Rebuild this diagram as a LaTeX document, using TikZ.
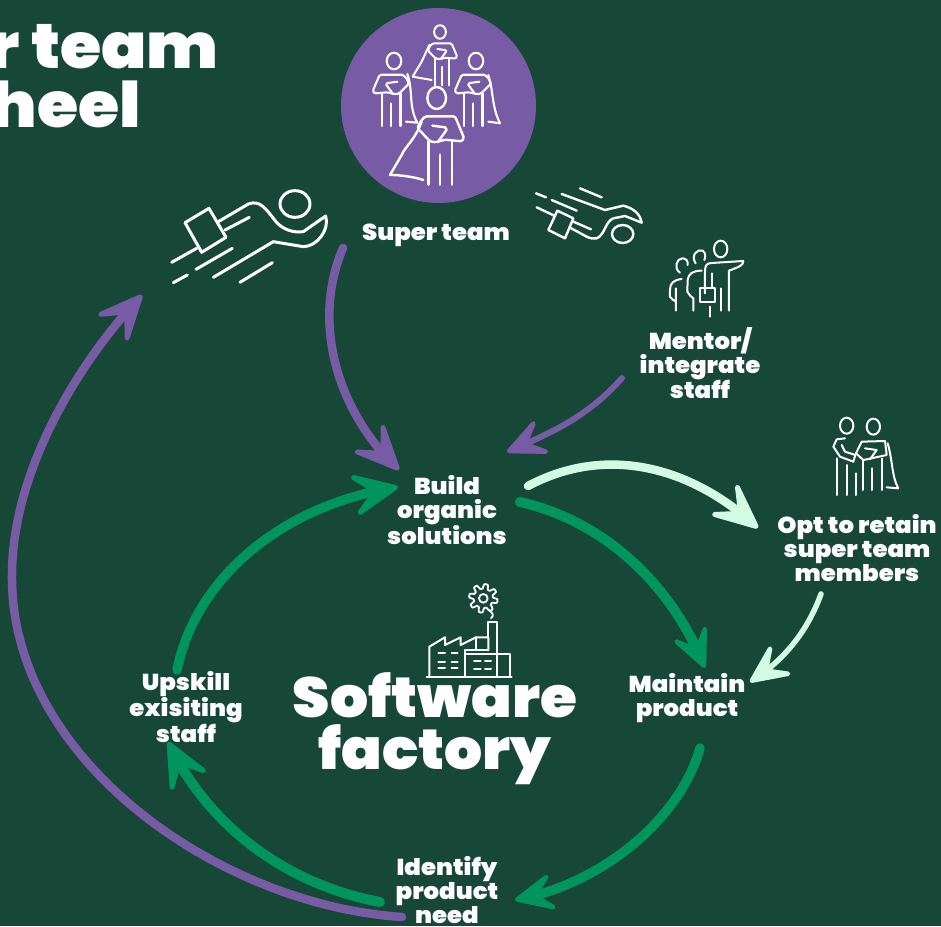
\documentclass[tikz,border=0pt]{standalone}
\usepackage{fontspec}
\setmainfont{Poppins}[BoldFont=Poppins Black,BoldFeatures={FakeStretch=1.06}]
\usetikzlibrary{arrows.meta,bending}
\definecolor{bgc}{HTML}{174737}
\definecolor{purp}{HTML}{775BA5}
\definecolor{grn}{HTML}{00955F}
\definecolor{mint}{HTML}{D3FBE4}
\tikzset{
  lbl/.style={white,align=center,inner sep=0pt,font=\bfseries\fontsize{23}{24}\selectfont},
  big/.style={white,align=center,inner sep=0pt,font=\bfseries\fontsize{56.5}{52}\selectfont},
  ttl/.style={white,anchor=base east,inner sep=0pt,font=\bfseries\fontsize{63}{63}\selectfont},
  ico/.style={white,line width=#1,line cap=round,line join=round},
  ico/.default=2.4,
  conn/.style={line cap=round,line join=round},
  tipS/.style={-{Stealth[round,length=58pt,width=52pt,inset=28pt,line width=5pt,flex]}},
  tipM/.style={-{Stealth[round,length=50pt,width=46pt,inset=24pt,line width=4.5pt,flex]}},
}
\newcommand{\heroicon}[5]{%
\begin{scope}[shift={(#1,#2)},x=#3pt,y=-#4pt]
\draw[ico=#5] (0,0) ellipse[x radius=28,y radius=33];
\draw[ico=#5,rounded corners=1.5pt] (-48,70) -- (-35,55) -- (55,55) -- (82,120) -- (75,130) -- (25,125) -- (-2,133) -- (-20,130) -- (-58,90) -- (-48,70);
\draw[ico=#5] (-13,83) -- (25,88) -- (30,95) -- (5,130);
\draw[ico=#5] (-25,130) -- (-25,260) (45,130) -- (45,260) (10,170) -- (10,260);
\end{scope}}
\begin{document}
\begin{tikzpicture}[x=1pt,y=-1pt]
\useasboundingbox (0,0) rectangle (941,926);
\clip (0,0) rectangle (941,926);
\fill[bgc] (0,0) rectangle (941,926);
% title
\node[ttl] (t1) at (219,68) {r team};
\node[ttl] (t2) at (141,127) {heel};
% circle + heroes
\node[circle,fill=purp,minimum size=195pt,inner sep=0pt] (team) at (438.5,105.5) {};
\heroicon{440}{32}{0.21}{0.205}{2}
\heroicon{394}{61}{-0.26}{0.25}{2.1}
\heroicon{476}{61}{-0.26}{0.25}{2.1}
\heroicon{436.7}{98}{0.3333}{0.3333}{2.4}
\begin{scope}[shift={(330,0)},x=.3333pt,y=-.3333pt]
\draw[ico=2.4] (275,365) .. controls (255,420) and (225,440) .. (215,465) -- (180,525) .. controls (210,525) and (250,530) .. (280,540);
\draw[ico=2.1] (232,222) .. controls (250,270) and (235,320) .. (262,368) -- (228,365);
\draw[ico=2.1] (475,225) .. controls (490,270) and (485,320) .. (510,370) -- (475,365);
\draw[ico=2] (298,135) -- (275,185) -- (248,230) -- (305,240);
\end{scope}
% flying person left
\begin{scope}[shift={(160,180)},x=.3333pt,y=-.3333pt]
\draw[ico=3] (405,72) ellipse[x radius=45,y radius=40];
\draw[ico=3] (75,128) -- (147,85) -- (198,172) -- (125,217) -- cycle;
\draw[ico=3] (175,125) -- (265,72) .. controls (300,58) and (320,90) .. (340,115) .. controls (360,145) and (395,160) .. (430,155) -- (497,108) .. controls (510,150) and (470,200) .. (430,200) -- (340,185) -- (160,292);
\draw[ico=3] (35,247) -- (110,205) (108,268) -- (217,205) (195,150) -- (268,112) (40,308) -- (82,285) (240,307) -- (337,248);
\end{scope}
% flying person right and mentor group
\begin{scope}[shift={(530,180)},x=.3333pt,y=-.3333pt]
\draw[ico=2.4] (82,92) -- (130,115) -- (105,175) -- (55,150) -- cycle;
\draw[ico=2.4] (278,162) ellipse[x radius=32,y radius=27];
\draw[ico=2.4] (95,42) -- (225,90) -- (280,77) .. controls (310,85) and (330,100) .. (335,128) -- (285,108) -- (250,115) .. controls (225,125) and (225,165) .. (200,175) .. controls (190,177) and (180,175) .. (170,170) -- (120,143);
\draw[ico=2.4] (150,25) -- (215,52) (18,40) -- (48,52) (65,60) -- (140,92) (20,82) -- (75,108) (130,125) -- (183,148);
% mentor
\draw[ico=2] (572,207) ellipse[x radius=20,y radius=25];
\draw[ico=2] (525,340) -- (525,275) .. controls (525,255) and (530,250) .. (545,249) -- (640,243) .. controls (640,255) and (630,260) .. (597,272) -- (597,392);
\draw[ico=2] (547,280) -- (547,325) (572,325) -- (572,392) (540,380) -- (540,410);
\draw[ico=2] (510,325) rectangle (555,365);
\draw[ico=2] (497,250) .. controls (480,225) and (505,205) .. (518,212) .. controls (530,220) and (525,235) .. (523,240);
\draw[ico=2] (515,272) .. controls (490,272) and (475,280) .. (473,300) -- (472,335) .. controls (475,345) and (485,350) .. (490,355) -- (490,392);
\draw[ico=2] (450,278) .. controls (430,265) and (440,235) .. (457,235) .. controls (470,235) and (475,245) .. (473,255);
\draw[ico=2] (455,297) .. controls (430,300) and (420,310) .. (420,330) -- (420,350) .. controls (425,358) and (432,362) .. (438,365) (438,325) -- (438,392);
\end{scope}
% pair
\begin{scope}[shift={(820,410)},x=.3333pt,y=-.3333pt]
\draw[ico=2] (80,47) ellipse[x radius=20,y radius=24] (160,50) ellipse[x radius=20,y radius=24];
\draw[ico=2] (75,85) -- (50,88) -- (40,110) -- (60,140) -- (100,155) -- (106,135) -- (75,125) -- (65,105);
\draw[ico=2] (52,145) -- (52,255) (80,165) -- (80,255) (108,190) -- (108,255);
\draw[ico=2] (108,130) -- (125,95) -- (195,93) -- (200,135) -- (130,150) -- cycle;
\draw[ico=2] (135,115) -- (170,120) -- (150,148);
\draw[ico=2] (130,150) -- (130,240) (155,175) -- (155,240) (185,145) -- (185,240);
\draw[ico=2] (203,100) .. controls (218,150) and (215,200) .. (235,235) -- (200,232);
\end{scope}
% factory
\begin{scope}[shift={(420,580)},x=.3333pt,y=-.3333pt]
\draw[ico=1.8] plot[domain=0:360,samples=97,smooth] ({190+(36+7*max(-1,min(1,1.8*sin(8*\x))))*cos(\x)},{55+(36+7*max(-1,min(1,1.8*sin(8*\x))))*sin(\x)}) -- cycle;
\draw[ico=1.8] (190,55) circle[radius=13];
\draw[ico=1.8] (207,90) .. controls (215,97) and (225,105) .. (213,115);
\draw[ico=2] (205,172) -- (205,127) -- (232,127) -- (232,222);
\draw[ico=2] (28,290) -- (28,200) -- (75,172) -- (75,195) -- (122,172) -- (122,195) -- (168,172) -- (205,172) -- (205,210);
\draw[ico=2] (168,172) -- (168,208) (135,290) -- (135,210) -- (205,210);
\draw[ico=2] (135,222) -- (270,222) -- (270,290) (232,222) -- (232,290) (20,292) -- (275,292);
\foreach \yy in {220,245,265} {\draw[ico=2] (55,\yy) -- (75,\yy) (95,\yy) -- (113,\yy);}
\foreach \yy in {243,268} {\draw[ico=2] (162,\yy) -- (182,\yy) (195,\yy) -- (213,\yy);}
\end{scope}
% labels
\node[lbl] (super) at (436,235) {Super team};
\node[lbl] (mentor) at (700,363) {Mentor/\\integrate\\staff};
\node[lbl] (build) at (447,510) {Build\\organic\\solutions};
\node[lbl] (opt) at (857,548) {Opt to retain\\super team\\members};
\node[lbl] (maintain) at (687,698) {Maintain\\product};
\node[lbl] (upskill) at (186,707) {Upskill\\exisiting\\staff};
\node[lbl] (identify) at (447,890) {Identify\\product\\need};
\node[big] (soft) at (435,729) {Software\\factory};
% connector ends
\coordinate (flyEnd) at (343,248);
\coordinate (buildA) at (399,470);
\coordinate (mentA) at (622,378);
\coordinate (buildB) at (507,452);
\coordinate (buildC) at (528,486);
\coordinate (optA) at (758,528);
\coordinate (optB) at (821,594);
\coordinate (mainA) at (750,682);
\coordinate (buildD) at (520,502);
\coordinate (mainB) at (705,668);
\coordinate (mainC) at (700,748);
\coordinate (idA) at (515,900);
\coordinate (idB) at (380,902);
\coordinate (upA) at (168,742);
\coordinate (upB) at (177,670);
\coordinate (buildE) at (398,487);
\coordinate (idC) at (402,917);
\coordinate (arcM) at (12,575);
\coordinate (flyIn) at (142,295);
% connectors
\draw[conn,purp,line width=8.5pt,tipS] (flyEnd) .. controls (312,320) and (335,410) .. (buildA);
\draw[conn,purp,line width=6pt,tipM] (mentA) .. controls (585,420) and (545,435) .. (buildB);
\draw[conn,mint,line width=8.5pt,tipS] (buildC) .. controls (605,445) and (690,465) .. (optA);
\draw[conn,mint,line width=5.5pt,tipM] (optB) .. controls (808,630) and (785,660) .. (mainA);
\draw[conn,grn,line width=10pt,tipM] (buildD) .. controls (600,520) and (670,580) .. (mainB);
\draw[conn,grn,line width=9.5pt,tipM] (mainC) .. controls (680,820) and (600,885) .. (idA);
\draw[conn,grn,line width=10pt,tipS] (idB) .. controls (290,885) and (210,830) .. (upA);
\draw[conn,grn,line width=9.5pt,tipS] (upB) .. controls (195,580) and (280,505) .. (buildE);
\draw[conn,purp,line width=8.5pt,tipS] (idC) .. controls (220,905) and (10,760) .. (arcM) .. controls (12,470) and (80,360) .. (flyIn);
\end{tikzpicture}
\end{document}
